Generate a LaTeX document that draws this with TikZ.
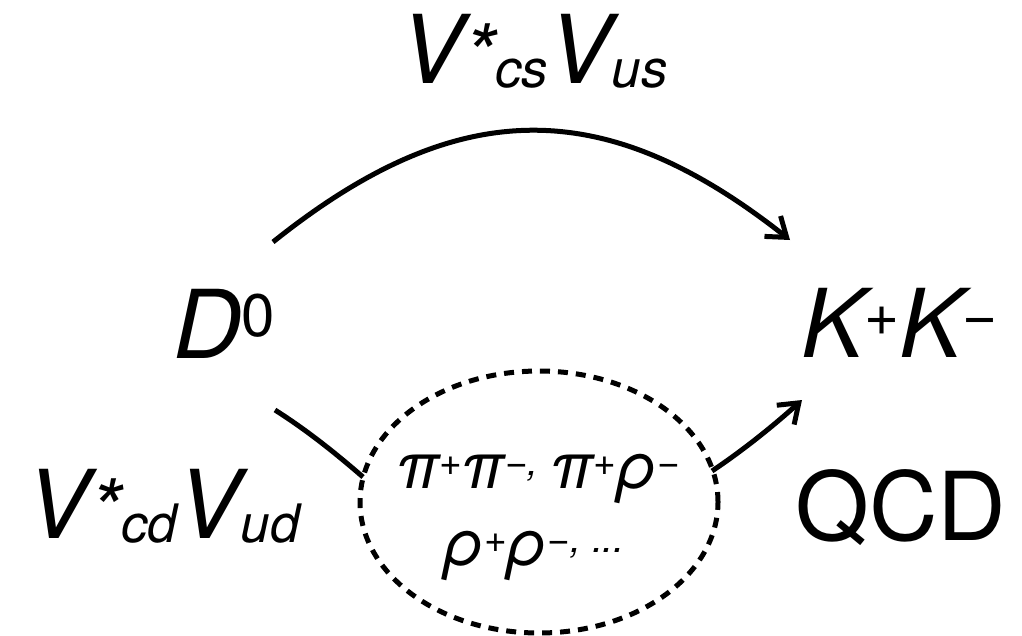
\documentclass[tikz,border=0pt]{standalone}
\usepackage{fontspec}
\setmainfont{TeX Gyre Heros}
\usetikzlibrary{arrows.meta,shapes.geometric}
\newcommand\bsup[1]{\raisebox{22pt}{\fontsize{60}{60}\selectfont #1}}
\newcommand\bstar{{\fontsize{82}{82}\selectfont *}}
\newcommand\bsub[1]{\raisebox{-4pt}{\fontsize{53}{53}\selectfont #1}}
\newcommand\ssup[1]{\raisebox{13pt}{\fontsize{39}{39}\selectfont #1}}
\tikzset{
  big/.style={inner sep=0pt, anchor=base west, font=\fontsize{95}{100}\selectfont},
  small/.style={inner sep=0pt, anchor=base, font=\fontsize{64}{70}\selectfont\itshape},
  conn/.style={line width=5pt},
  arr/.style={conn, -{Straight Barb[length=18pt,width=26pt]}},
  loopbox/.style={ellipse, draw, line width=5pt, dash pattern=on 10pt off 8pt,
    minimum width=358pt, minimum height=262pt, inner sep=0pt}
}
\begin{document}
\begin{tikzpicture}[x=1pt,y=-1pt]
\useasboundingbox (0,0) rectangle (1022,635);
\node[big] (top) at (400,83) {\itshape V\bstar\bsub{cs}V\bsub{us}};
\node[big] (D0) at (173,358) {\itshape D\bsup{\upshape 0}};
\node[big] (KK) at (801,357) {\itshape K\bsup{\upshape +}K\bsup{\upshape −}};
\node[big] (bot) at (26,538) {\itshape V\bstar\bsub{cd}V\bsub{ud}};
\node[big] (qcd) at (795,540) {QCD};
\node[loopbox] (loop) at (539,502) {};
\node[small] (l1) at (538,488) {π\ssup{+}π\ssup{−,}\hspace{-6pt} π\ssup{+}ρ\ssup{−}};
\node[small] (l2) at (534,565) {ρ\ssup{+}ρ\ssup{−, ...}};
\coordinate (ts) at (273,242);
\coordinate (te) at (790,240);
\coordinate (bs) at (275,410);
\coordinate (be) at (363,477);
\coordinate (rs) at (712,471);
\coordinate (re) at (802,400);
\draw[arr] (ts) .. controls (458,94) and (605,94) .. (te);
\draw[conn] (bs) .. controls (305,429) and (333,451) .. (be);
\draw[arr] (rs) .. controls (742,451) and (772,427) .. (re);
\end{tikzpicture}
\end{document}
